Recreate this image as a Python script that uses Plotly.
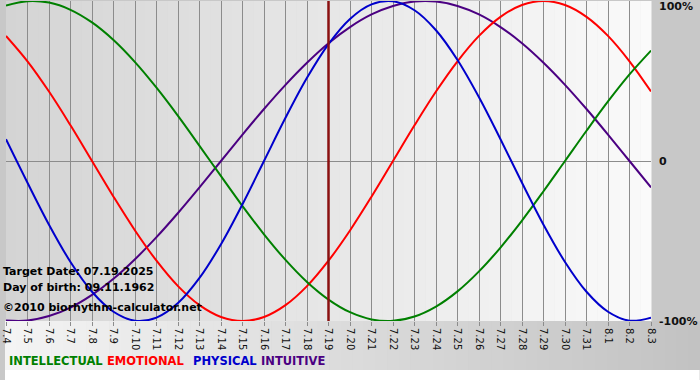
import plotly.graph_objects as go

days = ["7.4", "7.5", "7.6", "7.7", "7.8", "7.9", "7.10", "7.11", "7.12", "7.13",
        "7.14", "7.15", "7.16", "7.17", "7.18", "7.19", "7.20", "7.21", "7.22", "7.23",
        "7.24", "7.25", "7.26", "7.27", "7.28", "7.29", "7.30", "7.31", "8.1", "8.2", "8.3"]

intellectual = [0.972, 0.999, 0.990, 0.945, 0.866, 0.756, 0.618, 0.458, 0.282, 0.095,
                -0.095, -0.282, -0.458, -0.618, -0.756, -0.866, -0.945, -0.990, -0.999, -0.972,
                -0.910, -0.815, -0.690, -0.541, -0.372, -0.189, 0.000, 0.189, 0.372, 0.541, 0.690]
emotional = [0.782, 0.623, 0.434, 0.223, 0.000, -0.223, -0.434, -0.623, -0.782, -0.901,
             -0.975, -1.000, -0.975, -0.901, -0.782, -0.623, -0.434, -0.223, 0.000, 0.223,
             0.434, 0.623, 0.782, 0.901, 0.975, 1.000, 0.975, 0.901, 0.782, 0.623, 0.434]
physical = [0.136, -0.136, -0.398, -0.631, -0.817, -0.942, -0.998, -0.979, -0.888, -0.731,
            -0.520, -0.270, 0.000, 0.270, 0.520, 0.731, 0.888, 0.979, 0.998, 0.942,
            0.817, 0.631, 0.398, 0.136, -0.136, -0.398, -0.631, -0.817, -0.942, -0.998, -0.979]
intuitive = [-0.997, -0.997, -0.969, -0.916, -0.837, -0.736, -0.614, -0.476, -0.325, -0.165,
             0.000, 0.165, 0.325, 0.476, 0.614, 0.736, 0.837, 0.916, 0.969, 0.997,
             0.997, 0.969, 0.916, 0.837, 0.736, 0.614, 0.476, 0.325, 0.165, 0.000, -0.165]

target_day = "7.19"
y_tick_vals = [1, 0, -1]
y_tick_text = ["100%", "0", "-100%"]
info_lines = ["Target Date: 07.19.2025", "Day of birth: 09.11.1962", "©2010 biorhythm-calculator.net"]
legend_names = ["INTELLECTUAL", "EMOTIONAL", "PHYSICAL", "INTUITIVE"]

colors = {"INTELLECTUAL": "#008000", "EMOTIONAL": "#ff0000",
          "PHYSICAL": "#0000cc", "INTUITIVE": "#4b0082"}
series = {"INTELLECTUAL": intellectual, "EMOTIONAL": emotional,
          "PHYSICAL": physical, "INTUITIVE": intuitive}

W, H = 700, 380
PL, PT, PW, PH = 1, 1, 650, 320


def px(xp):
    return (xp - PL) / PW


def py(yp):
    return (PT + PH - yp) / PH


def gray(v):
    v = int(round(v))
    return f"rgb({v},{v},{v})"


fig = go.Figure()

for name in ["INTUITIVE", "EMOTIONAL", "INTELLECTUAL", "PHYSICAL"]:
    fig.add_trace(go.Scatter(x=days, y=series[name], mode="lines",
                             line=dict(color=colors[name], width=2, shape="spline", smoothing=1.0),
                             showlegend=False, hoverinfo="skip"))

shapes = []
n = 60
for i in range(n):
    x0 = PL + PW * i / n
    x1 = PL + PW * (i + 1) / n + 0.5
    c = 212 + (250 - 212) * (i + 0.5) / n
    shapes.append(dict(type="rect", xref="paper", yref="paper", x0=px(x0), x1=px(x1),
                       y0=py(PT + PH), y1=py(PT), line=dict(width=0), fillcolor=gray(c), layer="below"))
for i in range(n):
    x0 = W * i / n
    x1 = W * (i + 1) / n + 0.5
    c = 244 - (244 - 194) * (i + 0.5) / n
    shapes.append(dict(type="rect", xref="paper", yref="paper", x0=px(x0), x1=px(x1),
                       y0=py(370), y1=py(PT + PH), line=dict(width=0), fillcolor=gray(c), layer="below"))
shapes.append(dict(type="rect", xref="paper", yref="paper", x0=px(0), x1=px(W),
                   y0=py(H), y1=py(370), line=dict(width=0), fillcolor="#ffffff", layer="below"))
ti = days.index(target_day)
shapes.append(dict(type="line", xref="x", yref="paper", x0=ti, x1=ti,
                   y0=0, y1=1, line=dict(color="#8a1010", width=2.5), layer="above"))

annotations = []
for v, t in zip(y_tick_vals, y_tick_text):
    annotations.append(dict(xref="paper", yref="y", x=px(657), y=v, text=f"<b>{t}</b>",
                            showarrow=False, xanchor="left",
                            yanchor="top" if v == 1 else "middle",
                            yshift=3 if v == 1 else 0,
                            font=dict(family="DejaVu Sans", size=11, color="#111111")))
for yc, t in zip([271, 287, 307], info_lines):
    annotations.append(dict(xref="paper", yref="paper", x=px(-4), y=py(yc), text=f"<b>{t}</b>",
                            showarrow=False, xanchor="left", yanchor="middle",
                            font=dict(family="DejaVu Sans", size=11, color="#000000")))
for xs, name in zip([2, 101, 187, 256], legend_names):
    annotations.append(dict(xref="paper", yref="paper", x=px(xs), y=py(361), text=f"<b>{name}</b>",
                            showarrow=False, xanchor="left", yanchor="middle",
                            font=dict(family="DejaVu Sans", size=11.5, color=colors[name])))

fig.update_layout(
    width=W, height=H,
    margin=dict(l=PL, r=W - PL - PW, t=PT, b=H - PT - PH, pad=0),
    paper_bgcolor="#c8c8c8",
    plot_bgcolor="rgba(0,0,0,0)",
    shapes=shapes,
    annotations=annotations,
    xaxis=dict(type="category", range=[0, len(days) - 1], categoryorder="array", categoryarray=days,
               showgrid=True, gridcolor="#8c8c8c", gridwidth=1,
               ticks="outside", ticklen=4, tickcolor="#8c8c8c",
               tickangle=90, tickfont=dict(family="DejaVu Sans", size=10, color="#111111"),
               showline=False, zeroline=False, fixedrange=True),
    yaxis=dict(range=[-1, 1], tickvals=y_tick_vals, showticklabels=False,
               showgrid=True, gridcolor="#8c8c8c", gridwidth=1,
               zeroline=False, showline=False, fixedrange=True),
)

fig.write_html("out.html")
